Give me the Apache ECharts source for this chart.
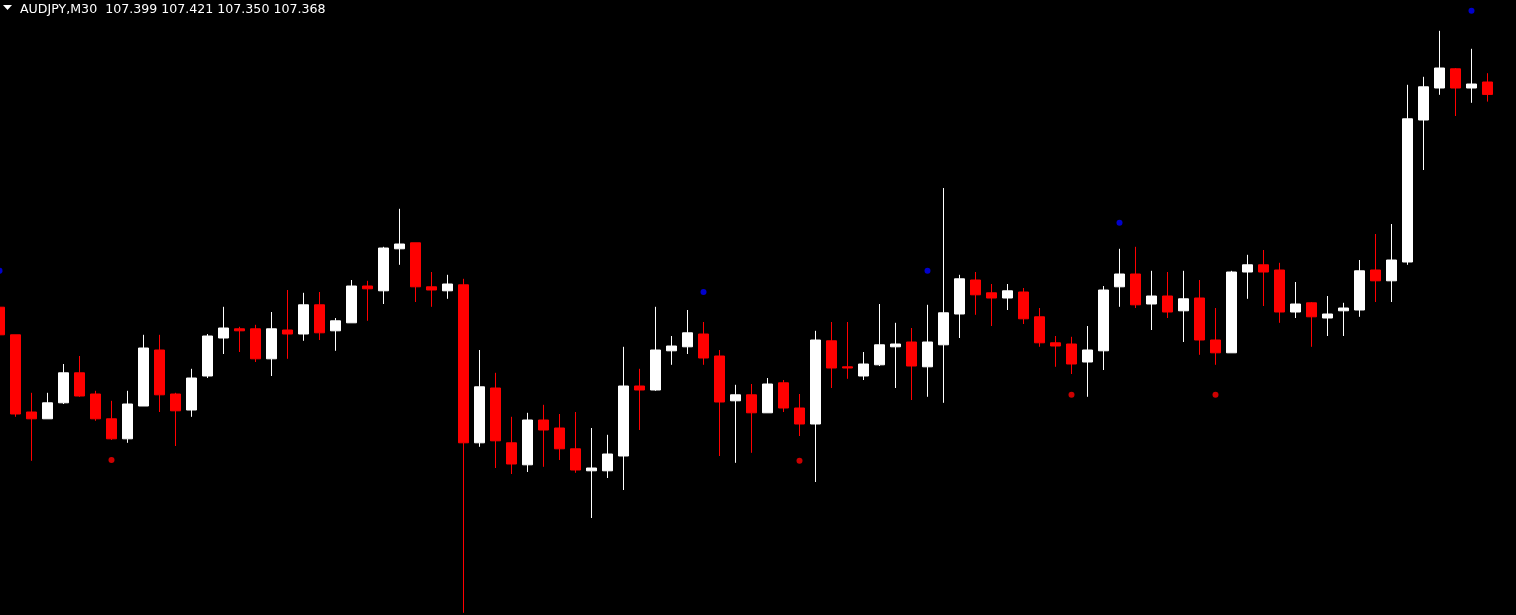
<!DOCTYPE html>
<html>
<head>
<meta charset="utf-8">
<script src="https://cdn.jsdelivr.net/npm/echarts@6/dist/echarts.min.js"></script>
<style>
html,body{margin:0;padding:0;background:#000;}
#chart{width:1516px;height:615px;}
</style>
</head>
<body>
<div id="chart"></div>
<script>
var symbolName = 'AUDJPY,M30';
var lastQuote = ['107.399', '107.421', '107.350', '107.368'];

var opens = [106.836,106.767,106.574,106.557,106.597,106.672,106.619,106.557,106.507,106.589,
  106.729,106.619,106.579,106.664,106.759,106.782,106.782,106.707,106.779,106.769,
  106.842,106.777,106.797,106.889,106.877,106.982,106.997,106.887,106.877,106.892,
  106.497,106.634,106.497,106.442,106.554,106.534,106.482,106.427,106.427,106.464,
  106.639,106.629,106.727,106.737,106.769,106.714,106.602,106.617,106.572,106.647,
  106.584,106.544,106.752,106.687,106.664,106.692,106.737,106.749,106.687,106.742,
  106.819,106.904,106.872,106.859,106.874,106.812,106.747,106.744,106.699,106.727,
  106.887,106.919,106.844,106.864,106.827,106.859,106.754,106.722,106.924,106.942,
  106.929,106.824,106.847,106.809,106.827,106.829,106.929,106.902,106.949,107.304,
  107.384,107.432,107.384,107.399];
var closes = [106.767,106.569,106.557,106.597,106.672,106.614,106.557,106.507,106.594,106.734,
  106.617,106.577,106.659,106.764,106.784,106.777,106.707,106.782,106.769,106.842,
  106.772,106.802,106.889,106.882,106.984,106.994,106.887,106.879,106.894,106.497,
  106.637,106.502,106.444,106.554,106.529,106.482,106.429,106.434,106.469,106.639,
  106.629,106.729,106.739,106.772,106.709,106.599,106.617,106.572,106.644,106.584,
  106.544,106.754,106.684,106.684,106.694,106.742,106.744,106.689,106.749,106.822,
  106.907,106.867,106.859,106.877,106.807,106.747,106.739,106.694,106.729,106.879,
  106.919,106.842,106.864,106.824,106.857,106.754,106.722,106.924,106.942,106.924,
  106.824,106.844,106.812,106.819,106.834,106.927,106.902,106.954,107.307,107.387,
  107.434,107.384,107.394,107.368];
var highs = [106.854,106.767,106.622,106.622,106.694,106.714,106.627,106.602,106.627,106.767,
  106.767,106.622,106.682,106.769,106.837,106.787,106.792,106.824,106.879,106.872,
  106.874,106.809,106.904,106.902,106.987,107.082,106.997,106.924,106.917,106.907,
  106.729,106.672,106.562,106.572,106.592,106.569,106.574,106.534,106.517,106.737,
  106.682,106.837,106.764,106.829,106.799,106.729,106.642,106.644,106.659,106.654,
  106.619,106.777,106.799,106.799,106.724,106.844,106.797,106.784,106.842,107.134,
  106.917,106.924,106.894,106.894,106.884,106.834,106.764,106.762,106.789,106.889,
  106.982,106.987,106.927,106.924,106.927,106.904,106.834,106.927,106.967,106.979,
  106.947,106.899,106.849,106.864,106.847,106.954,107.019,107.044,107.392,107.412,
  107.527,107.434,107.482,107.421];
var lows = [106.754,106.562,106.452,106.557,106.594,106.612,106.552,106.504,106.497,106.589,
  106.574,106.489,106.562,106.659,106.719,106.724,106.699,106.664,106.707,106.752,
  106.754,106.727,106.797,106.802,106.844,106.942,106.849,106.837,106.857,106.072,
  106.487,106.434,106.419,106.424,106.437,106.454,106.422,106.309,106.409,106.379,
  106.529,106.627,106.692,106.719,106.692,106.464,106.447,106.472,106.572,106.574,
  106.514,106.399,106.634,106.657,106.654,106.689,106.634,106.604,106.612,106.597,
  106.759,106.817,106.789,106.829,106.794,106.737,106.687,106.669,106.612,106.679,
  106.837,106.834,106.779,106.809,106.749,106.717,106.692,106.722,106.857,106.839,
  106.797,106.809,106.737,106.764,106.764,106.812,106.849,106.849,106.942,107.179,
  107.367,107.314,107.347,107.350];

// indicator dots: [bar index, price]
var upDots = [[0,106.927],[44,106.874],[58,106.927],[70,107.047],[92,107.577]];
var downDots = [[7,106.454],[50,106.452],[67,106.617],[76,106.617]];

var categories = opens.map(function(_, i){ return 'bar' + i; });
var candleData = opens.map(function(o, i){ return [o, closes[i], lows[i], highs[i]]; });

var chart = echarts.init(document.getElementById('chart'), null, {renderer:'canvas'});
chart.setOption({
  backgroundColor: '#000000',
  animation: false,
  grid: {left: -8.5, top: 0, width: 1504, height: 615, outerBoundsMode: 'none', containLabel: false},
  xAxis: {type:'category', data: categories, boundaryGap: true, show: false},
  yAxis: {type:'value', min: 106.0665, max: 107.604, show: false, scale: true},
  graphic: [
    {type:'polygon', shape:{points:[[3,5],[12,5],[7.5,10]]}, style:{fill:'#ffffff'}},
    {type:'text', x: 20, y: 9.5, style:{
      text: symbolName + '  ' + lastQuote.join(' '),
      fill:'#ffffff', font:'12.6px "DejaVu Sans"', verticalAlign:'middle', align:'left'}}
  ],
  series: [
    {type:'candlestick', data: candleData, barWidth: 10, clip: false,
     itemStyle:{color:'#ffffff', color0:'#ff0000', borderColor:'#ffffff', borderColor0:'#ff0000', borderWidth:1}},
    {type:'scatter', data: upDots, symbolSize: 6, clip: false, itemStyle:{color:'#0000ff'}},
    {type:'scatter', data: downDots, symbolSize: 6, clip: false, itemStyle:{color:'#ff0000'}}
  ]
});
</script>
</body>
</html>
